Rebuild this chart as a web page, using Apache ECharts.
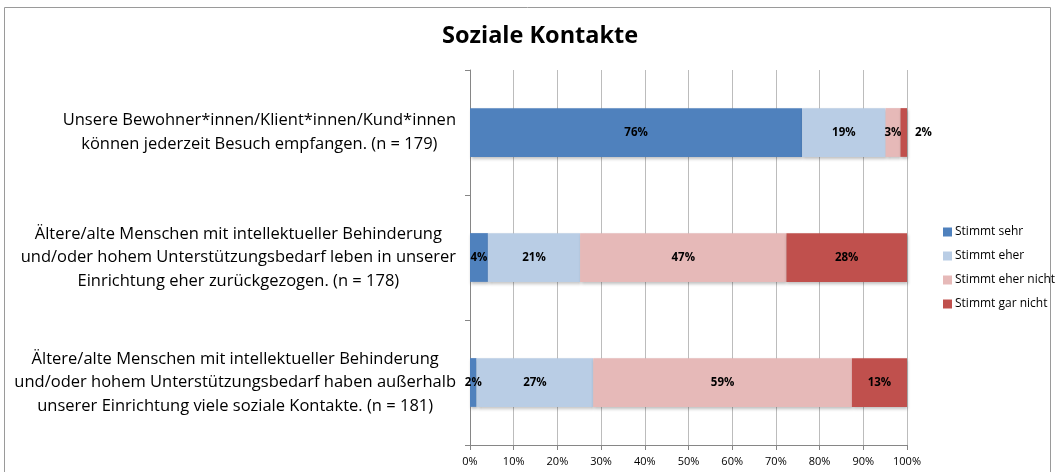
<!DOCTYPE html>
<html>
<head>
<meta charset="utf-8">
<script src="https://cdn.jsdelivr.net/npm/echarts@6/dist/echarts.min.js"></script>
<style>
html,body{margin:0;padding:0;background:#fff}
#chart{width:1055px;height:472px}
</style>
</head>
<body>
<div id="chart"></div>
<script>
// Aussagen (oben nach unten)
var categories = [
    'Unsere Bewohner*innen/Klient*innen/Kund*innen\nkönnen jederzeit Besuch empfangen. (n = 179)',
    'Ältere/alte Menschen mit intellektueller Behinderung\nund/oder hohem Unterstützungsbedarf leben in unserer\nEinrichtung eher zurückgezogen. (n = 178)',
    'Ältere/alte Menschen mit intellektueller Behinderung\nund/oder hohem Unterstützungsbedarf haben außerhalb\nunserer Einrichtung viele soziale Kontakte. (n = 181)'
]
var seriesNames = ['Stimmt sehr', 'Stimmt eher', 'Stimmt eher nicht', 'Stimmt gar nicht']
var sehr = [76.0, 4.1, 1.5]
var eher = [19.1, 21.1, 26.7]
var eherNicht = [3.4, 47.2, 59.2]
var garNicht = [1.5, 27.6, 12.6]
var xTicks = ['0%', '10%', '20%', '30%', '40%', '50%', '60%', '70%', '80%', '90%', '100%']
var colors = ['#4F81BD', '#B9CDE5', '#E6B9B8', '#C0504D']

var font = '"Open Sans", "Liberation Sans", sans-serif'
var myChart = echarts.init(document.getElementById('chart'))

function makeSeries(name, values, idx) {
    var data = []
    for (var i = 0; i < values.length; i++) {
        var d = { value: values[i] }
        // kleiner Wert rechts neben dem Balken
        if (idx == 3 && i == 0) {
            d.label = { position: 'right', distance: 8 }
        }
        data.push(d)
    }
    return {
        name: name,
        type: 'bar',
        stack: 'all',
        barWidth: '39%',
        itemStyle: {
            color: colors[idx],
            shadowColor: 'rgba(0,0,0,0.25)',
            shadowBlur: 3,
            shadowOffsetX: 1,
            shadowOffsetY: 2
        },
        label: {
            show: true,
            position: 'inside',
            color: '#000',
            fontWeight: 'bold',
            fontSize: 11.5,
            fontFamily: font,
            formatter: function (p) { return Math.round(p.value) + '%' }
        },
        data: data
    }
}

var option = {
    backgroundColor: '#fff',
    animation: false,
    title: {
        text: 'Soziale Kontakte',
        left: 437,
        top: 19,
        textStyle: { fontSize: 23.5, fontWeight: 'bold', color: '#000', fontFamily: font }
    },
    graphic: [{
        type: 'rect',
        shape: { x: 4.5, y: 7.5, width: 1046, height: 480 },
        style: { fill: 'none', stroke: '#9a9a9a', lineWidth: 1 },
        silent: true
    }],
    legend: {
        orient: 'vertical',
        left: 938,
        top: 221,
        itemWidth: 9,
        itemHeight: 9,
        itemGap: 12,
        icon: 'rect',
        data: seriesNames,
        textStyle: { fontSize: 12, color: '#000', fontFamily: font, padding: [0, 0, 0, -2] }
    },
    grid: { left: 470, right: 148, top: 70, bottom: 27, containLabel: false },
    xAxis: {
        type: 'value',
        min: 0,
        max: 100,
        interval: 10,
        axisLine: { show: true, lineStyle: { color: '#868686' } },
        axisTick: { show: true, length: 5, lineStyle: { color: '#868686' } },
        splitLine: { show: true, lineStyle: { color: '#bcbcbc' } },
        axisLabel: {
            fontSize: 11,
            color: '#000',
            fontFamily: font,
            margin: 11,
            formatter: function (v) { return xTicks[Math.round(v / 10)] }
        }
    },
    yAxis: {
        type: 'category',
        inverse: true,
        data: categories,
        axisLine: { show: true, lineStyle: { color: '#868686' } },
        axisTick: { show: true, length: 5, lineStyle: { color: '#868686' } },
        axisLabel: {
            margin: 14,
            align: 'right',
            fontSize: 16.5,
            lineHeight: 23.5,
            color: '#000',
            fontFamily: font,
            formatter: function (v) {
                return v.split('\n').map(function (s) { return '{c|' + s + '}' }).join('\n')
            },
            rich: {
                c: { align: 'center', fontSize: 16.5, lineHeight: 23.5, fontFamily: font, color: '#000' }
            }
        }
    },
    series: [
        makeSeries(seriesNames[0], sehr, 0),
        makeSeries(seriesNames[1], eher, 1),
        makeSeries(seriesNames[2], eherNicht, 2),
        makeSeries(seriesNames[3], garNicht, 3)
    ]
}
myChart.setOption(option)
</script>
</body>
</html>
